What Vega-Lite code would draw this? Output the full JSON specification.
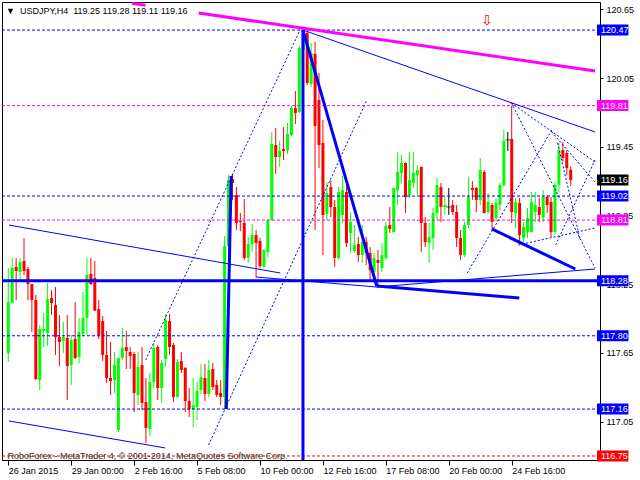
{
  "$schema": "https://vega.github.io/schema/vega-lite/v6.json",
  "width": 598,
  "height": 458,
  "autosize": "none",
  "padding": {"left": 2, "top": 2, "right": 40, "bottom": 20},
  "background": "white",
  "config": {"view": {"stroke": "#000000", "strokeWidth": 1}, "font": "Liberation Sans"},
  "title": {"text": "▼\u00a0\u00a0USDJPY,H4\u00a0\u00a0119.25 119.28 119.11 119.16", "anchor": "start", "frame": "group", "orient": "top", "offset": -9, "baseline": "middle", "dx": 4, "dy": 9, "font": "Liberation Sans", "fontSize": 9, "fontWeight": "normal", "color": "#000000"},
  "datasets": {
    "candles": [
      {"i":0,"o":117.650,"h":118.392,"l":117.571,"c":118.095},
      {"i":1,"o":118.086,"h":118.479,"l":118.086,"c":118.392},
      {"i":2,"o":118.401,"h":118.479,"l":118.112,"c":118.366},
      {"i":3,"o":118.357,"h":118.479,"l":118.287,"c":118.444},
      {"i":4,"o":118.453,"h":118.654,"l":118.331,"c":118.366},
      {"i":5,"o":118.383,"h":118.401,"l":118.112,"c":118.252},
      {"i":6,"o":118.252,"h":118.252,"l":117.833,"c":118.112},
      {"i":7,"o":118.112,"h":118.156,"l":117.414,"c":117.422},
      {"i":8,"o":117.414,"h":117.894,"l":117.326,"c":117.859},
      {"i":9,"o":117.842,"h":117.999,"l":117.702,"c":117.859},
      {"i":10,"o":117.824,"h":118.261,"l":117.711,"c":118.121},
      {"i":11,"o":118.130,"h":118.200,"l":117.981,"c":118.086},
      {"i":12,"o":118.069,"h":118.226,"l":117.632,"c":117.789},
      {"i":13,"o":117.789,"h":117.981,"l":117.536,"c":117.746},
      {"i":14,"o":117.754,"h":117.920,"l":117.650,"c":117.789},
      {"i":15,"o":117.781,"h":117.981,"l":117.239,"c":117.536},
      {"i":16,"o":117.545,"h":117.807,"l":117.370,"c":117.763},
      {"i":17,"o":117.772,"h":118.095,"l":117.597,"c":117.606},
      {"i":18,"o":117.615,"h":117.955,"l":117.562,"c":117.833},
      {"i":19,"o":117.816,"h":118.182,"l":117.798,"c":117.955},
      {"i":20,"o":117.955,"h":118.479,"l":117.807,"c":118.331},
      {"i":21,"o":118.340,"h":118.479,"l":118.243,"c":118.252},
      {"i":22,"o":118.305,"h":118.453,"l":118.016,"c":118.020},
      {"i":23,"o":118.034,"h":118.112,"l":117.772,"c":117.807},
      {"i":24,"o":117.929,"h":117.973,"l":117.580,"c":117.632},
      {"i":25,"o":117.632,"h":117.842,"l":117.388,"c":117.431},
      {"i":26,"o":117.431,"h":117.746,"l":117.283,"c":117.405},
      {"i":27,"o":117.414,"h":117.658,"l":117.300,"c":117.545},
      {"i":28,"o":116.977,"h":117.606,"l":116.960,"c":117.606},
      {"i":29,"o":117.606,"h":117.868,"l":117.588,"c":117.693},
      {"i":30,"o":117.702,"h":117.842,"l":117.510,"c":117.667},
      {"i":31,"o":117.658,"h":117.702,"l":117.510,"c":117.623},
      {"i":32,"o":117.641,"h":117.658,"l":117.134,"c":117.300},
      {"i":33,"o":117.283,"h":117.658,"l":117.195,"c":117.527},
      {"i":34,"o":117.545,"h":117.702,"l":117.152,"c":117.213},
      {"i":35,"o":117.222,"h":117.431,"l":116.864,"c":116.995},
      {"i":36,"o":116.986,"h":117.475,"l":116.925,"c":117.396},
      {"i":37,"o":117.396,"h":117.737,"l":117.344,"c":117.693},
      {"i":38,"o":117.702,"h":117.719,"l":117.239,"c":117.344},
      {"i":39,"o":117.344,"h":117.588,"l":117.213,"c":117.562},
      {"i":40,"o":117.597,"h":117.990,"l":117.527,"c":117.938},
      {"i":41,"o":117.929,"h":117.990,"l":117.632,"c":117.702},
      {"i":42,"o":117.719,"h":117.737,"l":117.222,"c":117.265},
      {"i":43,"o":117.265,"h":117.597,"l":117.260,"c":117.571},
      {"i":44,"o":117.580,"h":117.658,"l":117.475,"c":117.501},
      {"i":45,"o":117.519,"h":117.527,"l":117.134,"c":117.230},
      {"i":46,"o":117.230,"h":117.344,"l":117.091,"c":117.160},
      {"i":47,"o":117.160,"h":117.431,"l":117.003,"c":117.195},
      {"i":48,"o":117.178,"h":117.396,"l":117.064,"c":117.318},
      {"i":49,"o":117.326,"h":117.553,"l":117.291,"c":117.440},
      {"i":50,"o":117.431,"h":117.553,"l":117.230,"c":117.291},
      {"i":51,"o":117.291,"h":117.588,"l":117.265,"c":117.501},
      {"i":52,"o":117.510,"h":117.562,"l":117.326,"c":117.353},
      {"i":53,"o":117.370,"h":117.414,"l":117.265,"c":117.283},
      {"i":54,"o":117.300,"h":117.414,"l":117.195,"c":117.265},
      {"i":55,"o":117.265,"h":118.671,"l":117.160,"c":118.584},
      {"i":56,"o":118.584,"h":119.204,"l":118.575,"c":119.160},
      {"i":57,"o":119.169,"h":119.213,"l":118.986,"c":119.134},
      {"i":58,"o":119.029,"h":119.099,"l":118.724,"c":118.785},
      {"i":59,"o":118.802,"h":118.872,"l":118.715,"c":118.794},
      {"i":60,"o":118.785,"h":118.995,"l":118.462,"c":118.479},
      {"i":61,"o":118.479,"h":118.663,"l":118.436,"c":118.602},
      {"i":62,"o":118.602,"h":118.776,"l":118.532,"c":118.680},
      {"i":63,"o":118.680,"h":118.724,"l":118.313,"c":118.610},
      {"i":64,"o":118.628,"h":118.654,"l":118.392,"c":118.409},
      {"i":65,"o":118.401,"h":118.558,"l":118.395,"c":118.549},
      {"i":66,"o":118.532,"h":118.820,"l":118.488,"c":118.811},
      {"i":67,"o":118.811,"h":119.580,"l":118.805,"c":119.475},
      {"i":68,"o":119.466,"h":119.615,"l":119.213,"c":119.361},
      {"i":69,"o":119.361,"h":119.501,"l":119.274,"c":119.414},
      {"i":70,"o":119.431,"h":119.623,"l":119.335,"c":119.414},
      {"i":71,"o":119.422,"h":119.658,"l":119.388,"c":119.562},
      {"i":72,"o":119.553,"h":119.807,"l":119.545,"c":119.789},
      {"i":73,"o":119.789,"h":119.938,"l":119.650,"c":119.746},
      {"i":74,"o":119.754,"h":120.331,"l":119.746,"c":120.313},
      {"i":75,"o":120.296,"h":120.470,"l":120.278,"c":120.436},
      {"i":76,"o":120.444,"h":120.462,"l":119.990,"c":120.008},
      {"i":77,"o":119.999,"h":120.357,"l":119.973,"c":120.270},
      {"i":78,"o":120.261,"h":120.366,"l":118.724,"c":119.632},
      {"i":79,"o":119.859,"h":120.095,"l":119.265,"c":119.466},
      {"i":80,"o":119.484,"h":119.684,"l":118.505,"c":118.855},
      {"i":81,"o":118.864,"h":119.143,"l":118.811,"c":119.047},
      {"i":82,"o":119.099,"h":119.160,"l":118.837,"c":118.925},
      {"i":83,"o":118.925,"h":118.986,"l":118.401,"c":118.479},
      {"i":84,"o":118.479,"h":119.099,"l":118.462,"c":119.056},
      {"i":85,"o":118.855,"h":119.195,"l":118.785,"c":119.073},
      {"i":86,"o":119.056,"h":119.134,"l":118.575,"c":118.610},
      {"i":87,"o":118.698,"h":118.881,"l":118.523,"c":118.794},
      {"i":88,"o":118.540,"h":118.767,"l":118.523,"c":118.593},
      {"i":89,"o":118.602,"h":118.663,"l":118.444,"c":118.505},
      {"i":90,"o":118.505,"h":118.767,"l":118.436,"c":118.619},
      {"i":91,"o":118.619,"h":118.663,"l":118.418,"c":118.523},
      {"i":92,"o":118.523,"h":118.575,"l":118.287,"c":118.374},
      {"i":93,"o":118.357,"h":118.523,"l":118.270,"c":118.479},
      {"i":94,"o":118.462,"h":118.549,"l":118.226,"c":118.436},
      {"i":95,"o":118.392,"h":118.610,"l":118.357,"c":118.505},
      {"i":96,"o":118.479,"h":118.794,"l":118.462,"c":118.759},
      {"i":97,"o":118.767,"h":118.925,"l":118.698,"c":118.733},
      {"i":98,"o":118.706,"h":119.091,"l":118.698,"c":119.091},
      {"i":99,"o":119.073,"h":119.405,"l":118.942,"c":119.230},
      {"i":100,"o":119.222,"h":119.379,"l":119.134,"c":119.309},
      {"i":101,"o":119.309,"h":119.315,"l":118.872,"c":119.012},
      {"i":102,"o":119.029,"h":119.405,"l":119.003,"c":119.160},
      {"i":103,"o":119.134,"h":119.405,"l":119.091,"c":119.222},
      {"i":104,"o":119.204,"h":119.291,"l":119.029,"c":119.248},
      {"i":105,"o":119.274,"h":119.280,"l":118.532,"c":118.785},
      {"i":106,"o":118.785,"h":118.837,"l":118.575,"c":118.619},
      {"i":107,"o":118.610,"h":118.785,"l":118.436,"c":118.663},
      {"i":108,"o":118.654,"h":118.916,"l":118.549,"c":118.872},
      {"i":109,"o":118.872,"h":119.178,"l":118.811,"c":119.117},
      {"i":110,"o":119.099,"h":119.134,"l":118.794,"c":118.925},
      {"i":111,"o":118.925,"h":119.012,"l":118.855,"c":118.942},
      {"i":112,"o":118.925,"h":119.091,"l":118.855,"c":118.925},
      {"i":113,"o":118.942,"h":118.986,"l":118.855,"c":118.881},
      {"i":114,"o":118.881,"h":118.942,"l":118.575,"c":118.654},
      {"i":115,"o":118.654,"h":118.724,"l":118.462,"c":118.505},
      {"i":116,"o":118.505,"h":118.794,"l":118.488,"c":118.767},
      {"i":117,"o":118.767,"h":119.187,"l":118.741,"c":119.012},
      {"i":118,"o":119.091,"h":119.152,"l":118.986,"c":119.073},
      {"i":119,"o":119.091,"h":119.099,"l":118.881,"c":118.986},
      {"i":120,"o":118.986,"h":119.353,"l":118.942,"c":119.248},
      {"i":121,"o":119.230,"h":119.248,"l":118.868,"c":118.872},
      {"i":122,"o":118.881,"h":119.047,"l":118.864,"c":118.968},
      {"i":123,"o":118.942,"h":118.960,"l":118.741,"c":118.794},
      {"i":124,"o":118.829,"h":119.003,"l":118.794,"c":118.960},
      {"i":125,"o":118.942,"h":119.134,"l":118.898,"c":119.117},
      {"i":126,"o":119.117,"h":119.597,"l":119.099,"c":119.501},
      {"i":127,"o":119.510,"h":119.580,"l":119.414,"c":119.510},
      {"i":128,"o":119.519,"h":119.810,"l":118.785,"c":118.881},
      {"i":129,"o":118.872,"h":119.003,"l":118.741,"c":118.968},
      {"i":130,"o":118.960,"h":119.003,"l":118.610,"c":118.680},
      {"i":131,"o":118.654,"h":118.794,"l":118.619,"c":118.750},
      {"i":132,"o":118.706,"h":118.916,"l":118.654,"c":118.829},
      {"i":133,"o":118.706,"h":119.056,"l":118.698,"c":118.968},
      {"i":134,"o":118.881,"h":119.056,"l":118.794,"c":118.942},
      {"i":135,"o":118.925,"h":119.003,"l":118.794,"c":118.855},
      {"i":136,"o":118.829,"h":119.073,"l":118.794,"c":119.012},
      {"i":137,"o":119.012,"h":119.029,"l":118.872,"c":118.942},
      {"i":138,"o":118.968,"h":119.012,"l":118.663,"c":118.706},
      {"i":139,"o":118.706,"h":119.143,"l":118.680,"c":119.117},
      {"i":140,"o":119.117,"h":119.484,"l":119.056,"c":119.422},
      {"i":141,"o":119.422,"h":119.492,"l":119.318,"c":119.353},
      {"i":142,"o":119.396,"h":119.422,"l":119.204,"c":119.265},
      {"i":143,"o":119.250,"h":119.280,"l":119.110,"c":119.160}
    ],
    "levels": [
      {"price": 120.47, "kind": "blue"},
      {"price": 119.81, "kind": "magenta"},
      {"price": 119.16, "kind": "bid"},
      {"price": 119.02, "kind": "blue"},
      {"price": 118.81, "kind": "magenta"},
      {"price": 118.28, "kind": "bold"},
      {"price": 117.80, "kind": "blue"},
      {"price": 117.16, "kind": "blue"},
      {"price": 116.75, "kind": "red"}
    ],
    "lines": [
      {"x1": 31.425, "y1": 120.704, "x2": 34.925, "y2": 120.686, "kind": "magenta"},
      {"x1": 48.425, "y1": 120.619, "x2": 149.175, "y2": 120.112, "kind": "magenta"},
      {"x1": 74.925, "y1": 120.470, "x2": 149.175, "y2": 119.580, "kind": "thin"},
      {"x1": 0.175, "y1": 118.767, "x2": 69.175, "y2": 118.348, "kind": "thin"},
      {"x1": 0.175, "y1": 117.056, "x2": 39.925, "y2": 116.820, "kind": "thin"},
      {"x1": 93.675, "y1": 118.226, "x2": 149.175, "y2": 118.383, "kind": "thin"},
      {"x1": 62.925, "y1": 118.313, "x2": 93.675, "y2": 118.226, "kind": "thin"},
      {"x1": 74.925, "y1": 120.470, "x2": 93.675, "y2": 118.235, "kind": "thick"},
      {"x1": 93.675, "y1": 118.235, "x2": 129.925, "y2": 118.130, "kind": "thick"},
      {"x1": 122.925, "y1": 118.733, "x2": 144.175, "y2": 118.383, "kind": "thick"},
      {"x1": 55.425, "y1": 117.160, "x2": 56.675, "y2": 119.195, "kind": "thick"},
      {"x1": 74.925, "y1": 120.470, "x2": 74.925, "y2": 116.715, "kind": "thick"},
      {"x1": 34.925, "y1": 117.588, "x2": 74.175, "y2": 120.470, "kind": "dot"},
      {"x1": 50.925, "y1": 116.846, "x2": 91.175, "y2": 119.859, "kind": "dot"},
      {"x1": 127.925, "y1": 119.833, "x2": 149.175, "y2": 119.318, "kind": "dot"},
      {"x1": 127.925, "y1": 119.833, "x2": 149.175, "y2": 118.392, "kind": "dot"},
      {"x1": 116.675, "y1": 118.348, "x2": 138.175, "y2": 119.597, "kind": "dot"},
      {"x1": 138.175, "y1": 119.580, "x2": 149.175, "y2": 119.143, "kind": "dot"},
      {"x1": 139.175, "y1": 118.593, "x2": 149.175, "y2": 119.335, "kind": "dot"},
      {"x1": 129.675, "y1": 118.593, "x2": 149.175, "y2": 118.741, "kind": "dot"},
      {"x1": 139.675, "y1": 119.484, "x2": 145.425, "y2": 118.636, "kind": "dot"}
    ],
    "signals": [
      {"i": 121.7, "p": 120.549, "sym": "⇩"}
    ]
  },
  "layer": [
    {
      "data": {"name": "candles"},
      "mark": {"type": "rule", "strokeWidth": 1},
      "encoding": {
        "x": {"field": "i", "type": "quantitative",
          "scale": {"domain": [-0.325, 149.175], "nice": false, "zero": false},
          "axis": {"values": [0, 16, 32, 48, 64, 80, 96, 112, 128],
            "labelExpr": "['26 Jan 2015','29 Jan 00:00','2 Feb 16:00','5 Feb 08:00','10 Feb 00:00','12 Feb 16:00','17 Feb 08:00','20 Feb 00:00','24 Feb 16:00'][round(datum.value/16)]",
            "labelAlign": "left", "labelDx": 1, "labelBaseline": "top", "labelPadding": 1, "tickSize": 5, "tickColor": "#000000",
            "labelFont": "Liberation Sans", "labelFontSize": 9, "labelColor": "#000000", "labelOverlap": false, "labelBound": false, "labelFlush": false,
            "domain": false, "grid": false,
            "title": "RoboForex - MetaTrader 4, © 2001-2014, MetaQuotes Software Corp.",
            "titleX": 5, "titleY": -5, "titleAlign": "left", "titleAnchor": "start", "titleBaseline": "middle",
            "titleFont": "Liberation Sans", "titleFontSize": 9, "titleFontWeight": "normal", "titleColor": "#303030"}},
        "y": {"field": "l", "type": "quantitative",
          "scale": {"domain": [116.715, 120.715], "nice": false, "zero": false},
          "axis": {"orient": "right", "values": [117.05, 117.35, 117.65, 117.95, 118.25, 118.55, 118.85, 119.15, 119.45, 119.75, 120.05, 120.35, 120.65],
            "format": ".2f", "tickSize": 3, "tickColor": "#000000", "labelPadding": 3,
            "labelFont": "Liberation Sans", "labelFontSize": 9, "labelColor": "#000000", "labelOverlap": false, "labelBound": false, "labelFlush": false,
            "domain": false, "grid": false, "title": null}},
        "y2": {"field": "h"},
        "color": {"condition": [{"test": "datum.c > datum.o", "value": "#00ff00"}, {"test": "datum.c < datum.o", "value": "#ff0000"}], "value": "#000000"}
      }
    },
    {
      "data": {"name": "candles"},
      "mark": {"type": "bar", "width": 3},
      "encoding": {
        "x": {"field": "i", "type": "quantitative"},
        "y": {"field": "o", "type": "quantitative"},
        "y2": {"field": "c"},
        "color": {"condition": [{"test": "datum.c > datum.o", "value": "#00ff00"}, {"test": "datum.c < datum.o", "value": "#ff0000"}], "value": "#000000"}
      }
    },
    {
      "data": {"name": "candles"},
      "transform": [{"filter": "datum.o == datum.c"}],
      "mark": {"type": "tick", "orient": "horizontal", "size": 5, "thickness": 1, "color": "#000000"},
      "encoding": {
        "x": {"field": "i", "type": "quantitative"},
        "y": {"field": "o", "type": "quantitative"}
      }
    },
    {
      "data": {"name": "levels"},
      "transform": [{"filter": "datum.kind == 'blue'"}],
      "mark": {"type": "rule", "color": "#0000ff", "strokeWidth": 1, "strokeDash": [3, 2]},
      "encoding": {"y": {"field": "price", "type": "quantitative"}}
    },
    {
      "data": {"name": "levels"},
      "transform": [{"filter": "datum.kind == 'magenta'"}],
      "mark": {"type": "rule", "color": "#ff00ff", "strokeWidth": 1, "strokeDash": [3, 2]},
      "encoding": {"y": {"field": "price", "type": "quantitative"}}
    },
    {
      "data": {"name": "levels"},
      "transform": [{"filter": "datum.kind == 'red'"}],
      "mark": {"type": "rule", "color": "#ff0000", "strokeWidth": 1, "strokeDash": [3, 2]},
      "encoding": {"y": {"field": "price", "type": "quantitative"}}
    },
    {
      "data": {"name": "levels"},
      "transform": [{"filter": "datum.kind == 'bold'"}],
      "mark": {"type": "rule", "color": "#0000ff", "strokeWidth": 3},
      "encoding": {"y": {"field": "price", "type": "quantitative"}}
    },
    {
      "data": {"name": "lines"},
      "transform": [{"filter": "datum.kind == 'magenta'"}],
      "mark": {"type": "rule", "color": "#ff00ff", "strokeWidth": 3, "clip": true},
      "encoding": {"x": {"field": "x1", "type": "quantitative"}, "y": {"field": "y1", "type": "quantitative"}, "x2": {"field": "x2"}, "y2": {"field": "y2"}}
    },
    {
      "data": {"name": "lines"},
      "transform": [{"filter": "datum.kind == 'thin'"}],
      "mark": {"type": "rule", "color": "#0000ff", "strokeWidth": 1, "clip": true},
      "encoding": {"x": {"field": "x1", "type": "quantitative"}, "y": {"field": "y1", "type": "quantitative"}, "x2": {"field": "x2"}, "y2": {"field": "y2"}}
    },
    {
      "data": {"name": "lines"},
      "transform": [{"filter": "datum.kind == 'thick'"}],
      "mark": {"type": "rule", "color": "#0000ff", "strokeWidth": 3, "clip": true},
      "encoding": {"x": {"field": "x1", "type": "quantitative"}, "y": {"field": "y1", "type": "quantitative"}, "x2": {"field": "x2"}, "y2": {"field": "y2"}}
    },
    {
      "data": {"name": "lines"},
      "transform": [{"filter": "datum.kind == 'dot'"}],
      "mark": {"type": "rule", "color": "#0000ff", "strokeWidth": 1, "strokeDash": [2, 2], "clip": true},
      "encoding": {"x": {"field": "x1", "type": "quantitative"}, "y": {"field": "y1", "type": "quantitative"}, "x2": {"field": "x2"}, "y2": {"field": "y2"}}
    },
    {
      "data": {"name": "signals"},
      "mark": {"type": "text", "color": "#ff0000", "font": "DejaVu Sans", "fontSize": 14, "align": "center", "baseline": "middle"},
      "encoding": {"x": {"field": "i", "type": "quantitative"}, "y": {"field": "p", "type": "quantitative"}, "text": {"field": "sym"}}
    },
    {
      "data": {"name": "levels"},
      "mark": {"type": "rect", "yOffset": -5.5, "y2Offset": 5.5},
      "encoding": {
        "x": {"datum": 149.675},
        "x2": {"datum": 157.675},
        "y": {"field": "price", "type": "quantitative"},
        "y2": {"field": "price"},
        "color": {"field": "kind", "type": "nominal", "legend": null,
          "scale": {"domain": ["blue", "magenta", "bold", "red", "bid"], "range": ["#0000ff", "#ff00ff", "#0000ff", "#ff0000", "#000000"]}}
      }
    },
    {
      "data": {"name": "levels"},
      "mark": {"type": "text", "color": "#ffffff", "font": "Liberation Sans", "fontSize": 9, "align": "left", "baseline": "middle"},
      "encoding": {
        "x": {"datum": 150.675},
        "y": {"field": "price", "type": "quantitative"},
        "text": {"field": "price", "type": "quantitative", "format": ".2f"}
      }
    }
  ]
}
